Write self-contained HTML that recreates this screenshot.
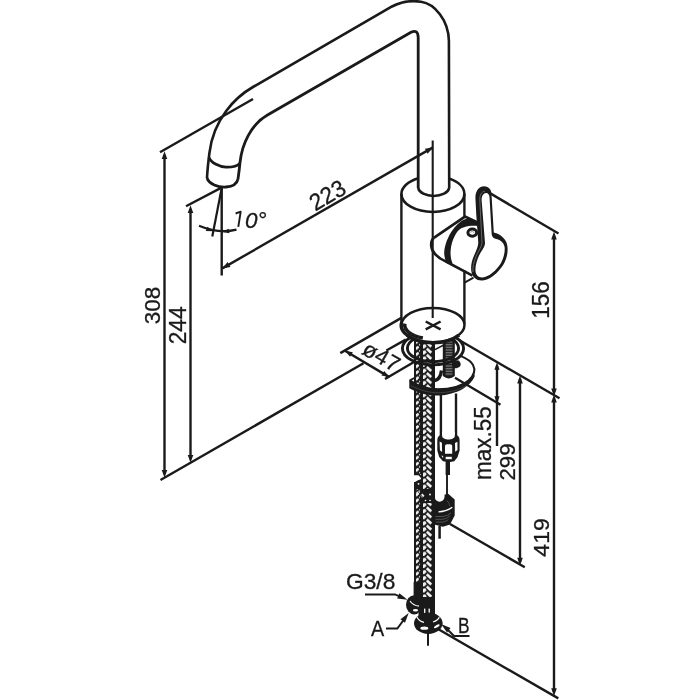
<!DOCTYPE html>
<html><head><meta charset="utf-8"><title>Faucet dimensions</title>
<style>
html,body{margin:0;padding:0;background:#fff;}
body{width:700px;height:700px;overflow:hidden;}
svg{display:block;will-change:transform;font-family:"Liberation Sans",sans-serif;}
</style></head>
<body>
<svg width="700" height="700" viewBox="0 0 700 700" stroke-linecap="butt">
<rect width="700" height="700" fill="#fff"/>
<defs>
<pattern id="hr" patternUnits="userSpaceOnUse" x="421" y="402.55" width="14" height="6.1">
<rect x="0" y="0" width="14" height="6.1" fill="#1a1a1a"/>
<rect x="-3" y="-1.35" width="6" height="2.7" fill="#f4f4f4" transform="translate(8,-3.05) rotate(42)"/><polygon points="2.0,-2.90 4.2,-3.40 5.7,-1.40 3.2,0.85 2.0,0.85" fill="#f0f0f0"/><rect x="-3" y="-1.35" width="6" height="2.7" fill="#f4f4f4" transform="translate(8,3.05) rotate(42)"/><polygon points="2.0,3.20 4.2,2.70 5.7,4.70 3.2,6.95 2.0,6.95" fill="#f0f0f0"/><rect x="-3" y="-1.35" width="6" height="2.7" fill="#f4f4f4" transform="translate(8,9.15) rotate(42)"/><polygon points="2.0,9.30 4.2,8.80 5.7,10.80 3.2,13.05 2.0,13.05" fill="#f0f0f0"/></pattern>
<pattern id="hl" patternUnits="userSpaceOnUse" x="414" y="402.55" width="7" height="6.1">
<rect x="0" y="0" width="7" height="6.1" fill="#1a1a1a"/>
<polygon points="2.0,-6.75 4.0,-8.00 5.25,-6.25 3.0,-4.00 2.0,-4.00" fill="#f0f0f0"/><polygon points="5.5,-4.00 6.2,-2.90 5.5,-1.80 4.85,-2.90" fill="#eee"/><polygon points="2.0,-0.65 4.0,-1.90 5.25,-0.15 3.0,2.10 2.0,2.10" fill="#f0f0f0"/><polygon points="5.5,2.10 6.2,3.20 5.5,4.30 4.85,3.20" fill="#eee"/><polygon points="2.0,5.45 4.0,4.20 5.25,5.95 3.0,8.20 2.0,8.20" fill="#f0f0f0"/><polygon points="5.5,8.20 6.2,9.30 5.5,10.40 4.85,9.30" fill="#eee"/><polygon points="2.0,11.55 4.0,10.30 5.25,12.05 3.0,14.30 2.0,14.30" fill="#f0f0f0"/><polygon points="5.5,14.30 6.2,15.40 5.5,16.50 4.85,15.40" fill="#eee"/></pattern>
<pattern id="thr" patternUnits="userSpaceOnUse" x="442.8" y="340" width="12" height="1.6">
<rect x="0" y="0" width="12" height="1.6" fill="#1a1a1a"/><rect x="2.8" y="1.1" width="6.8" height="0.45" fill="#c8c8c8"/>
</pattern>
</defs>
<path d="M 207,178 C 207.5,168 208.5,160 209.5,152.5 C 213.5,119 235.5,97 253,87 L 392,6.5 C 402,1.2 412,0.4 421,1.7 C 434.5,3.6 448.6,20 448.9,41 L 449.2,188" stroke="#1a1a1a" stroke-width="2.6" fill="none" />
<path d="M 238,179 C 239,172 239.5,168 240,162.5 C 242,144 251,124.5 267.5,115 L 411,32.3 Q 418,29 418.2,37.5 L 418.2,188" stroke="#1a1a1a" stroke-width="2.8" fill="none" />
<path d="M 209,157.5 C 211,163 220,167 226,167.2 C 232,167.3 237.5,166 239.8,163.3" stroke="#1a1a1a" stroke-width="2.8" fill="none" />
<path d="M 207,178 C 209,184 218,187.5 226,187 C 232,186.5 237,184 238,179" stroke="#1a1a1a" stroke-width="2.8" fill="none" />
<path d="M 418.2,188 A 15.6,9 0 0 0 449.2,188" stroke="#1a1a1a" stroke-width="2.6" fill="none" />
<line x1="160" y1="152.3" x2="253" y2="99" stroke="#1a1a1a" stroke-width="2.4" />
<line x1="164.5" y1="155" x2="164.5" y2="474" stroke="#1a1a1a" stroke-width="2.4" />
<polygon points="164.50,151.30 167.30,159.10 161.70,159.10" fill="#1a1a1a"/>
<polygon points="164.50,477.80 161.70,470.00 167.30,470.00" fill="#1a1a1a"/>
<line x1="186" y1="206.3" x2="221.5" y2="187.6" stroke="#1a1a1a" stroke-width="2.4" />
<line x1="190.5" y1="209" x2="190.5" y2="459" stroke="#1a1a1a" stroke-width="2.4" />
<polygon points="190.50,205.30 193.30,213.10 187.70,213.10" fill="#1a1a1a"/>
<polygon points="190.50,462.80 187.70,455.00 193.30,455.00" fill="#1a1a1a"/>
<line x1="160.5" y1="480" x2="363.5" y2="363.3" stroke="#1a1a1a" stroke-width="2.4" />
<line x1="386.4" y1="350.5" x2="405.7" y2="339.6" stroke="#1a1a1a" stroke-width="2.4" />
<text transform="translate(159.5,324.32) rotate(-90)" font-size="22.83" text-anchor="start" textLength="37.52" lengthAdjust="spacingAndGlyphs" fill="#1a1a1a" stroke="#1a1a1a" stroke-width="0.3" style="">308</text>
<text transform="translate(186.0,344.3) rotate(-90)" font-size="23.25" text-anchor="start" textLength="38.0" lengthAdjust="spacingAndGlyphs" fill="#1a1a1a" stroke="#1a1a1a" stroke-width="0.3" style="">244</text>
<line x1="221.7" y1="187.5" x2="221.7" y2="275.5" stroke="#1a1a1a" stroke-width="2.4" />
<line x1="221.7" y1="188" x2="212.3" y2="236.5" stroke="#1a1a1a" stroke-width="2.2" />
<path d="M 199,225.7 Q 219,234 236.5,229.6" stroke="#1a1a1a" stroke-width="2.2" fill="none" />
<polygon points="213.20,231.20 205.83,231.01 207.38,226.68" fill="#1a1a1a"/>
<polygon points="222.20,232.00 228.76,228.64 229.47,233.19" fill="#1a1a1a"/>
<path d="M 235.6,213.5 L 240.7,211.7 L 238.3,226.9" stroke="#1a1a1a" stroke-width="1.9" fill="none" stroke-linejoin="round"/>
<text transform="translate(245.0,227.7) rotate(0)" font-size="21.4" text-anchor="start" textLength="21.5" lengthAdjust="spacingAndGlyphs" fill="#1a1a1a" stroke="#1a1a1a" stroke-width="0.3" style="font-style:italic">0°</text>
<line x1="222.3" y1="268.4" x2="433" y2="147.4" stroke="#1a1a1a" stroke-width="2.4" />
<polygon points="222.30,268.40 227.67,262.09 230.46,266.95" fill="#1a1a1a"/>
<polygon points="433.00,147.40 427.63,153.71 424.84,148.85" fill="#1a1a1a"/>
<text transform="translate(315.3,211.4) rotate(-30)" font-size="23.5" text-anchor="start" textLength="37.5" lengthAdjust="spacingAndGlyphs" fill="#1a1a1a" stroke="#1a1a1a" stroke-width="0.3" style="">223</text>
<line x1="340.3" y1="353.1" x2="401.4" y2="317.9" stroke="#1a1a1a" stroke-width="2.4" />
<line x1="345" y1="350.7" x2="389.3" y2="377.1" stroke="#1a1a1a" stroke-width="2.4" />
<polygon points="345.00,350.70 352.82,352.22 350.06,356.86" fill="#1a1a1a"/>
<polygon points="389.30,377.10 381.48,375.58 384.24,370.94" fill="#1a1a1a"/>
<line x1="385" y1="379" x2="414" y2="362" stroke="#1a1a1a" stroke-width="2.4" />
<text transform="translate(360.8,353.2) rotate(30)" font-size="22" text-anchor="start" textLength="39" lengthAdjust="spacingAndGlyphs" fill="#1a1a1a" stroke="#1a1a1a" stroke-width="0.3" style="">ø47</text>
<line x1="490.3" y1="193.4" x2="558.5" y2="233.5" stroke="#1a1a1a" stroke-width="2.4" />
<line x1="459" y1="340" x2="559.5" y2="398.3" stroke="#1a1a1a" stroke-width="2.4" />
<line x1="554" y1="236" x2="554" y2="392" stroke="#1a1a1a" stroke-width="2.4" />
<polygon points="554.00,231.60 556.80,239.40 551.20,239.40" fill="#1a1a1a"/>
<polygon points="554.00,396.20 551.20,388.40 556.80,388.40" fill="#1a1a1a"/>
<line x1="554" y1="400" x2="554" y2="692" stroke="#1a1a1a" stroke-width="2.4" />
<polygon points="554.00,394.60 556.80,402.40 551.20,402.40" fill="#1a1a1a"/>
<polygon points="554.00,696.00 551.20,688.20 556.80,688.20" fill="#1a1a1a"/>
<text transform="translate(548.5,318.78) rotate(-90)" font-size="23.5" text-anchor="start" textLength="37.52" lengthAdjust="spacingAndGlyphs" fill="#1a1a1a" stroke="#1a1a1a" stroke-width="0.3" style="">156</text>
<text transform="translate(549.38,556.66) rotate(-90)" font-size="22.72" text-anchor="start" textLength="38.37" lengthAdjust="spacingAndGlyphs" fill="#1a1a1a" stroke="#1a1a1a" stroke-width="0.3" style="">419</text>
<line x1="497" y1="366" x2="497" y2="446" stroke="#1a1a1a" stroke-width="2.4" />
<polygon points="497.00,362.30 499.60,369.80 494.40,369.80" fill="#1a1a1a"/>
<polygon points="497.00,403.80 494.40,396.30 499.60,396.30" fill="#1a1a1a"/>
<line x1="455" y1="377.8" x2="500.5" y2="404.8" stroke="#1a1a1a" stroke-width="2.4" />
<text transform="translate(491.38,480.1) rotate(-90)" font-size="23.64" text-anchor="start" textLength="73.85" lengthAdjust="spacingAndGlyphs" fill="#1a1a1a" stroke="#1a1a1a" stroke-width="0.3" style="">max.55</text>
<line x1="520" y1="379" x2="520" y2="562" stroke="#1a1a1a" stroke-width="2.4" />
<polygon points="520.00,375.60 522.80,383.40 517.20,383.40" fill="#1a1a1a"/>
<polygon points="520.00,565.50 517.20,557.70 522.80,557.70" fill="#1a1a1a"/>
<text transform="translate(515.38,480.46) rotate(-90)" font-size="22.72" text-anchor="start" textLength="36.89" lengthAdjust="spacingAndGlyphs" fill="#1a1a1a" stroke="#1a1a1a" stroke-width="0.3" style="">299</text>
<line x1="450" y1="524" x2="524.8" y2="567.2" stroke="#1a1a1a" stroke-width="2.4" />
<line x1="438" y1="629" x2="558.3" y2="698.4" stroke="#1a1a1a" stroke-width="2.4" />
<rect x="414" y="340" width="7" height="134" fill="url(#hl)"/>
<path d="M413,475 L419,475 L421.5,477.8 L421.5,479 L418,480.2 L414.3,482.6 L413,482.6 Z" fill="#fff"/>
<rect x="414" y="482" width="7" height="102" fill="url(#hl)"/>
<path d="M414,482.6 L418,480.2 L421.5,479 L422,489 L414,489 Z" fill="#1a1a1a"/>
<rect x="421" y="340" width="14" height="260" fill="url(#hr)"/>
<rect x="421.5" y="489" width="13" height="14" fill="#1a1a1a"/>
<path d="M 414,474.3 L 419,474.3 L 421.6,477.3" stroke="#1a1a1a" stroke-width="1.8" fill="none" />
<circle cx="418.5" cy="483.8" r="0.9" fill="#fff"/><circle cx="430" cy="494.5" r="0.9" fill="#fff"/><circle cx="425.5" cy="500.5" r="0.8" fill="#fff"/><circle cx="430" cy="500.5" r="0.8" fill="#fff"/>
<polygon points="416.2,492.3 418.2,490.4 420.2,492.6 418.2,494.8" fill="#eee"/>
<polygon points="420.3,495.6 422.4,493.6 424.5,495.8 422.4,498" fill="#eee"/>
<path d="M 415.5,488.5 L 424.5,499.5" stroke="#1a1a1a" stroke-width="0.9" fill="none" />
<rect x="442.8" y="340" width="12" height="36" fill="url(#thr)"/>
<path d="M442.8,376 Q448.8,380.8 454.8,376 Z" fill="#1a1a1a"/>
<ellipse cx="433" cy="348.5" rx="30.6" ry="16.4" fill="none" stroke="#1a1a1a" stroke-width="2.9"/>
<ellipse cx="433" cy="348.3" rx="25.6" ry="13.4" fill="none" stroke="#1a1a1a" stroke-width="2.9"/>
<ellipse cx="456.3" cy="364.3" rx="4.4" ry="3.7" fill="#1a1a1a" transform="rotate(-22 456.3 364.3)"/>
<line x1="435" y1="349.6" x2="443.2" y2="345.3" stroke="#1a1a1a" stroke-width="1.6" />
<path d="M 410,380.5 C 418,386 428,389.3 438,389.3 C 450,389.3 462,386 468.5,380.5 C 474,375.5 475.8,370 473,365 C 471,361.3 466,358.3 461,356.2" stroke="#1a1a1a" stroke-width="2" fill="none" />
<path d="M 409.3,380 C 418,385.5 428,388.8 438,388.8 C 450,388.8 462,385.5 468.5,380 C 471,378 473,375.5 474,373 L 474.8,376 C 473,381 468,386 461,390 C 452,394 444,395.6 437,395.6 C 427,395.6 417,392.5 409.3,388.2 Z" fill="#1a1a1a"/>
<path d="M 411,385.6 C 420,390.5 430,392.8 438,392.8 C 448,392.8 458,390.5 466,386" stroke="#666" stroke-width="0.5" fill="none" />
<path d="M 434.8,380.5 C 438.5,379.7 440.8,376.5 441.5,370.5" stroke="#1a1a1a" stroke-width="3.4" fill="none" />
<path d="M 409.6,380.6 L 414.2,378" stroke="#1a1a1a" stroke-width="2" fill="none" />
<line x1="440.9" y1="395" x2="440.9" y2="437" stroke="#1a1a1a" stroke-width="2.4" />
<line x1="456" y1="393.5" x2="456" y2="437" stroke="#1a1a1a" stroke-width="2.4" />
<path d="M 437.3,440 C 437.3,437 439,435.2 441.5,434.8 L 455.5,434.8 C 458,435.2 459.6,437 459.6,440 L 459.6,450.5 L 457.6,457 L 454.3,461.3 L 449,462.2 L 443,461.3 L 439.2,457 L 437.3,450.5 Z" fill="#1a1a1a"/>
<path d="M 442.1,432 L 442.1,436 C 442.1,440.6 454.8,440.6 454.8,436 L 454.8,432 Z" fill="#fff"/>
<path d="M 439.6,441.6 L 441.9,442.8 L 442.1,452 L 439.9,450.2 Z" fill="#fff"/>
<path d="M 445,446 Q 445,444.3 447,444.3 L 450.2,444.3 Q 452.2,444.3 452.2,446 L 452.2,453.8 L 445,453.8 Z" fill="#fff"/>
<path d="M 455,442.9 L 457.4,441.8 L 457.5,450 L 455.2,451.8 Z" fill="#fff"/>
<path d="M 441.2,455.6 L 443.2,456 L 443,457.9 Z" fill="#eee"/>
<rect x="445.7" y="456.8" width="6.1" height="2.4" fill="#fff"/>
<rect x="445.6" y="460" width="4.4" height="15" fill="#1a1a1a"/>
<line x1="447" y1="474" x2="447" y2="495" stroke="#1a1a1a" stroke-width="1.9" />
<path d="M 444.6,494.5 L 448.5,494 L 454.7,499.5 L 454.7,515.5 L 450,524.5 L 443,526.8 L 434,524.5 L 433,503 L 434.6,496 C 434.6,503.5 444.6,503.5 444.6,496 Z" fill="#1a1a1a"/>
<path d="M 438.5,511.8 Q 446,511.8 452.3,507.3" stroke="#fff" stroke-width="1.3" fill="none" />
<path d="M 435.5,516.5 L 443,516.5 Q 448,515.8 451,513 M 435.5,519.3 L 443,519.3 Q 447,518.6 450,516 M 436,522.1 L 443,522.1 Q 446,521.5 448.5,519.5" stroke="#777" stroke-width="0.6" fill="none" />
<path d="M 447,500.5 Q 449.5,503 449.8,506" stroke="#666" stroke-width="0.6" fill="none" />
<line x1="439.6" y1="526" x2="439.6" y2="538.7" stroke="#1a1a1a" stroke-width="2.5" />
<ellipse cx="433" cy="325.1" rx="31.5" ry="17.2" fill="#fff" stroke="#1a1a1a" stroke-width="2.5"/>
<path d="M 407,335.2 A 31.5,17.2 0 0 0 459,335.2" stroke="#1a1a1a" stroke-width="3.6" fill="none" />
<path d="M 401.6,322 A 31.5,17.2 0 0 0 409,336.6" stroke="#1a1a1a" stroke-width="3.0" fill="none" />
<path d="M 404.86,323.65 A 28.3,13.9 0 0 0 422.86,338.08" stroke="#1a1a1a" stroke-width="3.5" fill="none" />
<path d="M 405.66,328.70 A 28.3,13.9 0 0 0 421.86,337.88" stroke="#6a6a6a" stroke-width="0.6" fill="none"  stroke-dasharray="0.7 3.2"/>
<path d="M 401.4,194 L 401.4,324 L 464.4,324 L 464.4,194 Z" fill="none"/>
<line x1="401.4" y1="194" x2="401.4" y2="324" stroke="#1a1a1a" stroke-width="2.4" />
<line x1="464.4" y1="194" x2="464.4" y2="216.5" stroke="#1a1a1a" stroke-width="2.4" />
<line x1="464.4" y1="270.5" x2="464.4" y2="324" stroke="#1a1a1a" stroke-width="2.4" />
<path d="M 401.4,194 A 31.5,18 0 0 0 464.4,194" stroke="#1a1a1a" stroke-width="2.6" fill="none" />
<path d="M 401.4,194 A 31.5,18 0 0 1 418.3,178.2" stroke="#1a1a1a" stroke-width="2.6" fill="none" />
<path d="M 464.4,194 A 31.5,18 0 0 0 449.1,178.6" stroke="#1a1a1a" stroke-width="2.6" fill="none" />
<line x1="432.7" y1="140.5" x2="432.7" y2="318" stroke="#1a1a1a" stroke-width="2.1" />
<line x1="425.7" y1="321.5" x2="440.6" y2="329.4" stroke="#1a1a1a" stroke-width="2.5" />
<line x1="425.7" y1="329.4" x2="440.6" y2="321.5" stroke="#1a1a1a" stroke-width="2.5" />
<path d="M 433.8,237.8 L 465,216.6 L 477,222.3" stroke="#1a1a1a" stroke-width="2.7" fill="none" />
<path d="M 433.8,237.8 C 430,241.5 430.2,249 435,254 C 438,257.2 441,259.5 445.5,261.3 L 472.5,275.6" stroke="#1a1a1a" stroke-width="2.6" fill="none" />
<path d="M 464.6,282.6 L 473.5,277.6" stroke="#1a1a1a" stroke-width="1.8" fill="none" />
<path d="M 477.3,222.3 C 474,220.3 470,218.6 467,218.8 C 462,219.3 457,224.5 453,229.5 C 448,236 444.7,245 444.2,252 C 444,256 445.2,260.5 447.5,263.8 L 452.6,263.5 C 451,260 450.3,255 450.6,251 C 451,245 452.5,240.5 454.5,236.5 C 457,231.5 460,228 464,227.2 C 468,226.2 472,225.6 477.3,226 Z" fill="#1a1a1a"/>
<ellipse cx="472.3" cy="232.6" rx="4.4" ry="3.6" fill="#fff" stroke="#1a1a1a" stroke-width="3"/>
<path d="M 470.3,232.2 Q 472.3,230.6 474.3,232.6" stroke="#888" stroke-width="0.9" fill="none" />
<path d="M 475.4,198 C 475.4,190.5 479.3,186.3 484,186.3 C 488.3,186.3 491,189.3 491.4,193 L 493.8,232.5 C 498,233.5 503,236 506,241.5 C 509,248 507.8,257 503.3,264.8 C 498,273 490,280 482.5,280.5 C 476.5,280.9 472.3,277.3 471.3,271 C 470.6,266 471.8,260 474.3,255 C 476,251 478,247 478.3,243 L 476.3,215 Z" fill="#1a1a1a"/>
<path d="M 481.6,200 C 481.6,196 483.4,192.9 486,192.9 C 488.2,192.9 489.3,194.8 489.5,197 L 491.6,233 C 491.7,236.5 493,238.3 496.5,239 C 500.8,240 503.5,242.5 504.5,246.5 C 505.3,250.5 504,257.5 501,263 C 496.5,270.5 488.8,277 482.5,277.4 C 478.5,277.6 475.9,275 475.5,271 C 475.1,266 476.9,260 479.3,255 C 481.3,251 485,247 485,243 Z" fill="#fff"/>
<path d="M 485,191 C 481.3,191.8 479.6,195 479.8,200 L 482,243 C 481.5,248 477.3,252 475.8,257 C 473.8,262 472.5,267 473,272" stroke="#777" stroke-width="0.8" fill="none" />
<rect x="413.6" y="582" width="8.4" height="15" fill="#1a1a1a"/>
<rect x="418.5" y="597" width="16.5" height="19" fill="#1a1a1a"/>
<rect x="414" y="594" width="8" height="8" fill="#1a1a1a"/>
<ellipse cx="414.2" cy="604.8" rx="8.2" ry="9.6" fill="#1a1a1a"/>
<path d="M 410,601 Q 413,605.5 419,606.2" stroke="#fff" stroke-width="1.2" fill="none" />
<ellipse cx="415.5" cy="610.2" rx="2.6" ry="1.3" fill="#fff"/>
<rect x="424" y="608.6" width="1.4" height="5.6" fill="#f4f4f4"/><rect x="428.5" y="608.6" width="1.4" height="5.6" fill="#f4f4f4"/>
<ellipse cx="428.3" cy="623.3" rx="14.3" ry="10.7" fill="#1a1a1a"/>
<path d="M 417,617 Q 419,621.5 424,622.3" stroke="#fff" stroke-width="1.2" fill="none" />
<path d="M 433,622 Q 438,620.5 439.3,617.3" stroke="#fff" stroke-width="1.2" fill="none" />
<ellipse cx="424.3" cy="628.2" rx="4" ry="1.6" fill="#fff"/>
<ellipse cx="436.8" cy="626.3" rx="3.2" ry="1.2" fill="#fff" transform="rotate(-28 436.8 626.3)"/>
<line x1="428" y1="633" x2="428" y2="645.8" stroke="#1a1a1a" stroke-width="2" />
<text transform="translate(346.0,589.0) rotate(0)" font-size="21.18" text-anchor="start" textLength="49.35" lengthAdjust="spacingAndGlyphs" fill="#1a1a1a" stroke="#1a1a1a" stroke-width="0.3" style="">G3/8</text>
<path d="M 365,594.4 L 395,594.4 L 403,597.8" stroke="#1a1a1a" stroke-width="2" fill="none" />
<polygon points="407.50,599.80 397.20,598.49 399.38,593.33" fill="#1a1a1a"/>
<text transform="translate(371.0,636.0) rotate(0)" font-size="22.11" text-anchor="start" textLength="13.19" lengthAdjust="spacingAndGlyphs" fill="#1a1a1a" stroke="#1a1a1a" stroke-width="0.3" style="">A</text>
<path d="M 386,628.6 L 397.3,628.6 L 405.5,617.5" stroke="#1a1a1a" stroke-width="2" fill="none" />
<polygon points="408.70,613.00 404.94,622.68 400.46,619.32" fill="#1a1a1a"/>
<text transform="translate(458.0,632.66) rotate(0)" font-size="21.23" text-anchor="start" textLength="11.58" lengthAdjust="spacingAndGlyphs" fill="#1a1a1a" stroke="#1a1a1a" stroke-width="0.3" style="">B</text>
<path d="M 469.5,636 L 454,636 L 446,628" stroke="#1a1a1a" stroke-width="2" fill="none" />
<polygon points="441.00,624.00 450.56,628.06 447.06,632.43" fill="#1a1a1a"/>
</svg>
</body></html>
